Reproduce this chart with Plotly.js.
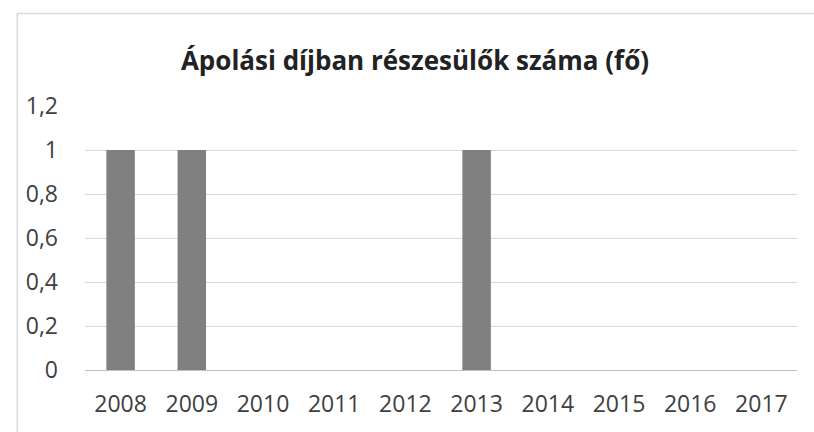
<!DOCTYPE html>
<html>
<head>
<meta charset="utf-8">
<script src="https://cdn.plot.ly/plotly-3.0.1.min.js"></script>
<style>html,body{margin:0;padding:0;background:#fff;}#chart{width:814px;height:432px;}</style>
</head>
<body>
<div id="chart"></div>
<script>
const years = ["2008","2009","2010","2011","2012","2013","2014","2015","2016","2017"];
const counts = [1, 1, 0, 0, 0, 1, 0, 0, 0, 0];
const yTickVals = [0, 0.2, 0.4, 0.6, 0.8, 1, 1.2];
const yTickText = ["0", "0,2", "0,4", "0,6", "0,8", "1", "1,2"];
const chartTitle = "Ápolási díjban részesülők száma (fő)";

const trace = {
  type: "bar",
  x: years,
  y: counts,
  marker: {color: "#808080"},
  hoverinfo: "x+y"
};

const layout = {
  width: 814,
  height: 432,
  margin: {l: 85, r: 17, t: 106, b: 62},
  paper_bgcolor: "#ffffff",
  plot_bgcolor: "#ffffff",
  bargap: 0.6,
  showlegend: false,
  font: {family: "Open Sans, sans-serif", color: "#404040"},
  title: {
    text: "<b>" + chartTitle + "</b>",
    font: {family: "Open Sans, sans-serif", size: 26, color: "#222222"},
    x: 415/814, xanchor: "center", xref: "container",
    y: 1 - 61/432, yanchor: "middle", yref: "container"
  },
  xaxis: {
    type: "category",
    tickfont: {size: 23, color: "#404040"},
    showgrid: false,
    showline: false,
    ticks: "",
    ticklabelstandoff: 18,
    fixedrange: true
  },
  yaxis: {
    range: [0, 1.2],
    tickvals: yTickVals,
    ticktext: yTickText,
    tickfont: {size: 23, color: "#404040"},
    showgrid: true,
    gridcolor: "#d9d9d9",
    gridwidth: 1,
    zeroline: true,
    zerolinecolor: "#bfbfbf",
    zerolinewidth: 1,
    showline: false,
    ticks: "",
    ticklabelstandoff: 26,
    fixedrange: true
  },
  shapes: [
    {type: "rect", xref: "paper", yref: "paper", x0: -0.095, x1: 1.03, y0: -0.25, y1: 1.35,
     line: {color: "#d9d9d9", width: 1.5}, fillcolor: "rgba(0,0,0,0)", layer: "below"}
  ]
};

Plotly.newPlot("chart", [trace], layout, {displayModeBar: false, staticPlot: true});
</script>
</body>
</html>
